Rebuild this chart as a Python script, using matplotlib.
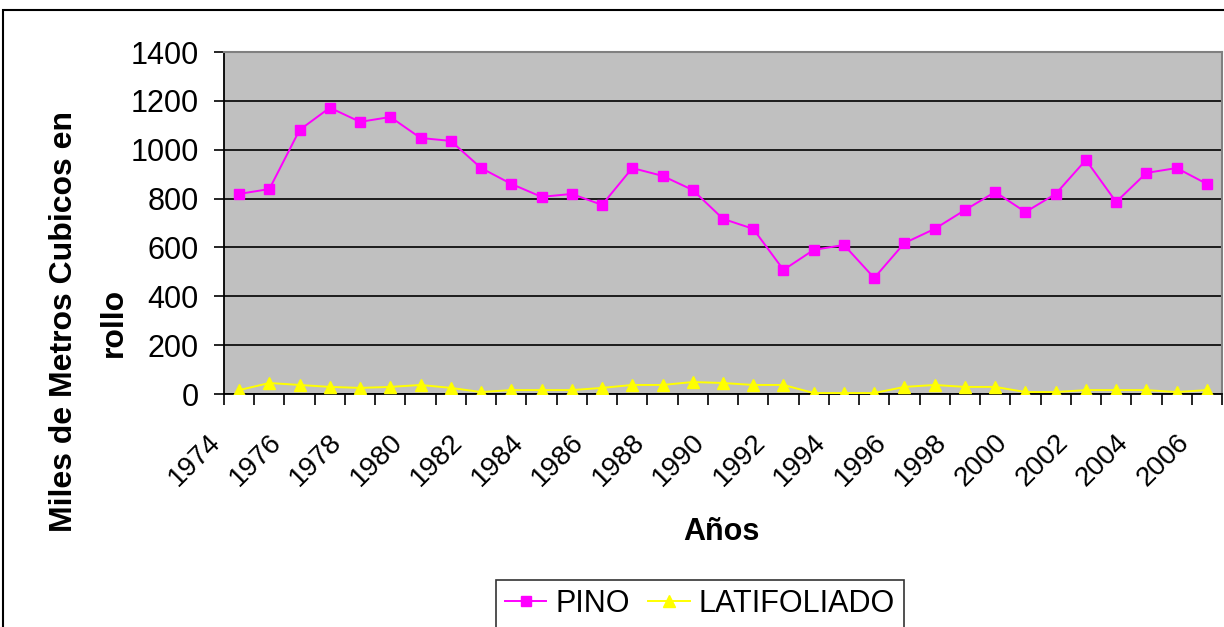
import matplotlib
matplotlib.use('Agg')
import matplotlib.pyplot as plt
import matplotlib.transforms as mtransforms
from matplotlib.patches import Rectangle
from matplotlib.ticker import FixedLocator

years = list(range(1974, 2007))
pino = [819, 839, 1081, 1172, 1114, 1134, 1048, 1036, 925, 860,
        807, 819, 774, 925, 893, 835, 717, 676, 508, 590,
        610, 475, 618, 676, 753, 827, 745, 819, 958, 786,
        905, 925, 860]
latifoliado = [16, 45, 37, 29, 25, 29, 37, 25, 8, 16,
               16, 16, 25, 37, 37, 49, 45, 37, 37, 4,
               4, 4, 29, 37, 29, 29, 8, 8, 16, 16,
               16, 8, 16]
y_ticks = [0, 200, 400, 600, 800, 1000, 1200, 1400]

plt.rcParams['font.family'] = ['Liberation Sans', 'DejaVu Sans']
FS = 22

fig = plt.figure(figsize=(12.24, 6.27), dpi=100)
ax = fig.add_axes([224 / 1224, 1 - 394 / 627, 998 / 1224, 342 / 627])
ax.set_facecolor('#C0C0C0')

idx = list(range(len(years)))
ax.plot(idx, pino, color='#FF00FF', lw=1.4, marker='s', markersize=7.5,
        label='PINO', zorder=3)
ax.plot(idx, latifoliado, color='#FFFF00', lw=1.4, marker='^', markersize=8.5,
        label='LATIFOLIADO', zorder=3)

ax.set_xlim(-0.5, len(years) - 0.5)
ax.set_ylim(0, 1400)
ax.set_yticks(y_ticks)
ax.set_yticklabels([str(v) for v in y_ticks], fontsize=FS)
ax.yaxis.grid(True, color='black', lw=1.2)
ax.set_axisbelow(True)

ax.set_xticks(idx[::2])
ax.set_xticklabels([str(y) for y in years[::2]], rotation=45, ha='right',
                   va='center', rotation_mode='anchor', fontsize=20)
ax.tick_params(axis='x', length=0, pad=0)
ax.xaxis.set_minor_locator(FixedLocator([i - 0.5 for i in range(len(years) + 1)]))
ax.tick_params(axis='x', which='minor', length=8, width=1.2, color='black')
ax.tick_params(axis='y', length=7, width=1.2, pad=11)

# shift the rotated year labels so their ends sit just left of the category
offset = mtransforms.ScaledTranslation(-0.22, -0.44, fig.dpi_scale_trans)
for lab in ax.get_xticklabels():
    lab.set_transform(lab.get_transform() + offset)

for s in ['top', 'right']:
    ax.spines[s].set_color('#808080')
    ax.spines[s].set_linewidth(1.5)
for s in ['left', 'bottom']:
    ax.spines[s].set_color('black')
    ax.spines[s].set_linewidth(1.3)

fig.text(89 / 1224, 1 - 322 / 627, 'Miles de Metros Cubicos en\nrollo',
         rotation=90, ha='center', va='center', multialignment='center',
         fontsize=23, fontweight='bold', linespacing=1.85)
fig.text(721 / 1224, 1 - 532 / 627, 'Años', ha='center', va='center',
         fontsize=FS, fontweight='bold')

leg = fig.legend(loc='upper center', bbox_to_anchor=(700 / 1224, 1 - 580 / 627),
                 ncol=2, fontsize=FS, frameon=True, fancybox=False,
                 edgecolor='black', handlelength=1.35, columnspacing=0.6,
                 handletextpad=0.3, borderpad=0.3, borderaxespad=0)
leg.get_frame().set_linewidth(1.2)

fig.patches.append(Rectangle((3 / 1224, -0.1), 1.2, 1.1 - 10 / 627, fill=False,
                             edgecolor='black', lw=1.5, transform=fig.transFigure))

fig.savefig('out.png', dpi=100)
plt.close(fig)
